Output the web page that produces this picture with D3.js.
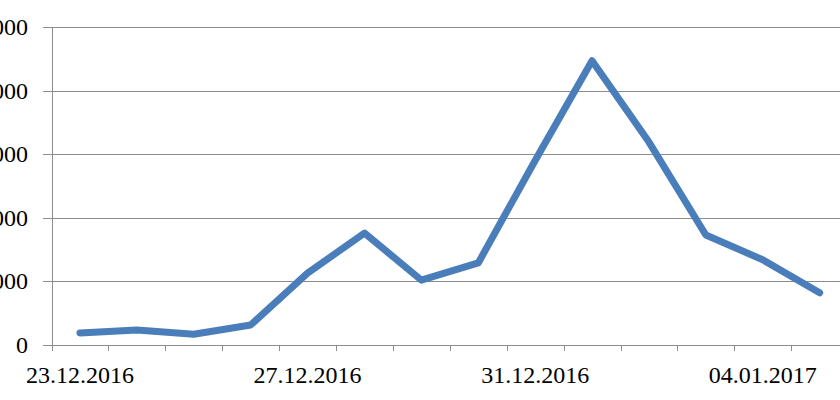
<!DOCTYPE html>
<html>
<head>
<meta charset="utf-8">
<script src="https://cdn.jsdelivr.net/npm/d3@7"></script>
<style>
  body { margin: 0; background: #fff; }
  svg { display: block; }
  text { font-family: "Liberation Serif", "DejaVu Serif", serif; fill: #000; }
</style>
</head>
<body>
<div id="chart"></div>
<script>
// dates shown on the category axis
const dates = [
  "23.12.2016", "24.12.2016", "25.12.2016", "26.12.2016", "27.12.2016",
  "28.12.2016", "29.12.2016", "30.12.2016", "31.12.2016", "01.01.2017",
  "02.01.2017", "03.01.2017", "04.01.2017", "05.01.2017"
];
// values
const counts = [190, 235, 170, 315, 1130, 1760, 1020, 1290, 2900, 4470, 3190, 1730, 1340, 820];
const yTicks = [0, 1000, 2000, 3000, 4000, 5000];
const labelDates = ["23.12.2016", "27.12.2016", "31.12.2016", "04.01.2017"];

const width = 840, height = 400;
const plot = { left: 51.5, top: 27, bottom: 345, step: 56.9 };

const svg = d3.select("#chart").append("svg")
  .attr("width", width)
  .attr("height", height);

const x = d3.scaleBand()
  .domain(dates)
  .range([plot.left, plot.left + plot.step * dates.length])
  .paddingInner(0).paddingOuter(0);

const y = d3.scaleLinear()
  .domain([0, 5000])
  .range([plot.bottom, plot.top]);

// horizontal grid lines with short ticks left of the axis
svg.append("g")
  .selectAll("line")
  .data(yTicks)
  .join("line")
  .attr("x1", plot.left - 8.5)
  .attr("x2", width)
  .attr("y1", d => Math.round(y(d)) + 0.5)
  .attr("y2", d => Math.round(y(d)) + 0.5)
  .attr("stroke", "#8c8c8c")
  .attr("stroke-width", 1);

// y labels
svg.append("g")
  .selectAll("text")
  .data(yTicks)
  .join("text")
  .attr("x", 28)
  .attr("y", d => y(d) + 8)
  .attr("text-anchor", "end")
  .style("font-size", "24px")
  .text(d => d);

// vertical axis line
svg.append("line")
  .attr("x1", Math.round(plot.left) + 0.5)
  .attr("x2", Math.round(plot.left) + 0.5)
  .attr("y1", plot.top)
  .attr("y2", plot.bottom + 6)
  .attr("stroke", "#8c8c8c");

// tick marks on category boundaries
svg.append("g")
  .selectAll("line")
  .data(dates.slice(1))
  .join("line")
  .attr("x1", d => Math.round(x(d)) + 0.5)
  .attr("x2", d => Math.round(x(d)) + 0.5)
  .attr("y1", plot.bottom)
  .attr("y2", plot.bottom + 6)
  .attr("stroke", "#8c8c8c");

// category labels, every fourth date
svg.append("g")
  .selectAll("text")
  .data(labelDates)
  .join("text")
  .attr("x", d => x(d) + x.bandwidth() / 2)
  .attr("y", 383)
  .attr("text-anchor", "middle")
  .style("font-size", "24px")
  .text(d => d);

// series line
const line = d3.line()
  .x((d, i) => x(dates[i]) + x.bandwidth() / 2)
  .y(d => y(d));

svg.append("path")
  .datum(counts)
  .attr("d", line)
  .attr("fill", "none")
  .attr("stroke", "#4a7ebb")
  .attr("stroke-width", 7)
  .attr("stroke-linejoin", "round")
  .attr("stroke-linecap", "round");
</script>
</body>
</html>
